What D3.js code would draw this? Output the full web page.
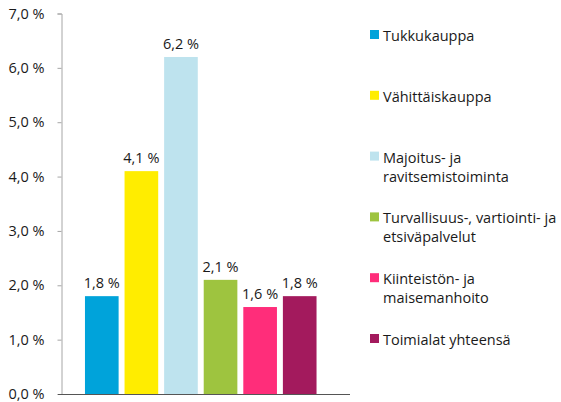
<!DOCTYPE html>
<html>
<head>
<meta charset="utf-8">
<script src="https://cdn.jsdelivr.net/npm/d3@7"></script>
<style>
  body { margin: 0; background: #fff; }
  text { font-family: "Open Sans", "Noto Sans", sans-serif; fill: #1a1a1a; }
</style>
</head>
<body>
<div id="chart"></div>
<script>
// data
const categories = ["Tukkukauppa", "Vähittäiskauppa", "Majoitus- ja ravitsemistoiminta",
  "Turvallisuus-, vartiointi- ja etsiväpalvelut", "Kiinteistön- ja maisemanhoito", "Toimialat yhteensä"];
const values = [1.8, 4.1, 6.2, 2.1, 1.6, 1.8];
const colors = ["#00a3da", "#ffed00", "#bee3ee", "#9ec43f", "#ff2d7a", "#a31a5d"];
const legendLines = [["Tukkukauppa"], ["Vähittäiskauppa"], ["Majoitus- ja", "ravitsemistoiminta"],
  ["Turvallisuus-, vartiointi- ja", "etsiväpalvelut"], ["Kiinteistön- ja", "maisemanhoito"], ["Toimialat yhteensä"]];
const yTicks = [0, 1, 2, 3, 4, 5, 6, 7];

const W = 561, H = 402;
const fs = "14.5px";
const fmt = v => v.toFixed(1).replace(".", ",") + " %";

const svg = d3.select("#chart").append("svg")
  .attr("width", W).attr("height", H);

const y = d3.scaleLinear().domain([0, 7]).range([394, 13.5]);
const x = d3.scaleBand()
  .domain(categories)
  .range([82, 319.5])
  .paddingInner(0.15)
  .paddingOuter(0.075);

// y axis
const yAxis = svg.append("g")
  .attr("transform", "translate(61.5,0)")
  .call(d3.axisLeft(y).tickValues(yTicks).tickFormat(fmt).tickSize(4).tickPadding(13));
yAxis.select(".domain").attr("stroke", "#a6a6a6");
yAxis.selectAll(".tick line").attr("stroke", "#a6a6a6");
yAxis.selectAll("text").style("font-size", fs).attr("fill", "#1a1a1a");

// bars
svg.selectAll(".bar")
  .data(values)
  .enter().append("rect")
  .attr("class", "bar")
  .attr("x", (d, i) => x(categories[i]))
  .attr("y", d => y(d))
  .attr("width", x.bandwidth())
  .attr("height", d => y(0) - y(d))
  .attr("fill", (d, i) => colors[i]);

// value labels
svg.selectAll(".val")
  .data(values)
  .enter().append("text")
  .attr("class", "val")
  .attr("x", (d, i) => x(categories[i]) + x.bandwidth() / 2)
  .attr("y", d => y(d) - 8)
  .attr("text-anchor", "middle")
  .style("font-size", fs)
  .text(fmt);

// baseline
svg.append("line")
  .attr("x1", 58).attr("x2", 350)
  .attr("y1", y(0) + 0.5).attr("y2", y(0) + 0.5)
  .attr("stroke", "#555").attr("stroke-width", 1);

// legend
const legend = svg.selectAll(".legend")
  .data(legendLines)
  .enter().append("g")
  .attr("class", "legend")
  .attr("transform", (d, i) => `translate(370,${36 + i * 60.8})`);

legend.append("rect")
  .attr("x", 0).attr("y", -6)
  .attr("width", 9).attr("height", 9)
  .attr("fill", (d, i) => colors[i]);

legend.each(function(lines) {
  const t = d3.select(this).append("text")
    .attr("x", 13).attr("y", 0)
    .style("font-size", fs);
  lines.forEach((ln, j) => {
    t.append("tspan").attr("x", 13).attr("y", j * 19).attr("dy", "0.35em").text(ln);
  });
});
</script>
</body>
</html>
